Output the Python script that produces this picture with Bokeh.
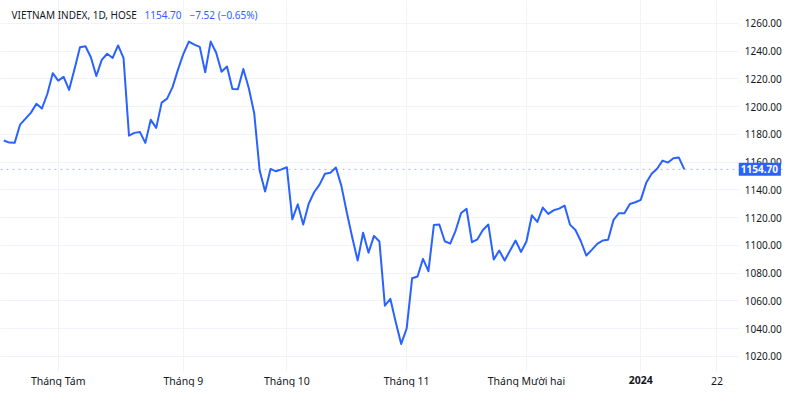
from bokeh.plotting import figure
from bokeh.models import (ColumnDataSource, FixedTicker, Range1d, Span, Label, NumeralTickFormatter)
from bokeh.embed import file_html
from bokeh.resources import INLINE

# ---- data (daily closes, VN-Index, HOSE) ----
close = [
    1175.5, 1174.0, 1173.8, 1187.0, 1191.3, 1195.6, 1202.0, 1198.5, 1209.0, 1224.0,
    1218.7, 1221.4, 1212.0, 1227.0, 1242.7, 1243.4, 1235.5, 1222.0, 1233.6, 1238.0,
    1235.0, 1244.0, 1234.8, 1179.0, 1181.0, 1181.7, 1173.8, 1190.4, 1184.6, 1202.8,
    1205.7, 1214.0, 1226.6, 1238.0, 1246.8, 1244.6, 1243.0, 1224.7, 1246.8, 1238.9,
    1225.0, 1228.8, 1212.7, 1212.4, 1227.0, 1213.4, 1195.2, 1153.8, 1138.7, 1155.0,
    1153.3, 1154.7, 1156.2, 1118.7, 1129.5, 1114.9, 1129.8, 1138.2, 1143.7, 1151.5,
    1152.2, 1156.0, 1143.0, 1123.8, 1105.8, 1089.0, 1109.0, 1094.7, 1106.8, 1102.7,
    1056.5, 1061.4, 1044.5, 1028.9, 1040.0, 1076.2, 1077.5, 1090.2, 1081.3, 1114.7,
    1115.0, 1102.9, 1101.2, 1110.6, 1123.3, 1126.2, 1102.2, 1104.3, 1111.0, 1115.0,
    1089.7, 1096.2, 1089.0, 1096.2, 1103.4, 1095.2, 1102.7, 1121.6, 1116.8, 1127.2,
    1122.6, 1125.2, 1126.4, 1128.6, 1114.9, 1111.0, 1102.9, 1092.6, 1096.7, 1101.0,
    1103.4, 1103.9, 1118.3, 1123.1, 1123.1, 1129.8, 1131.0, 1132.7, 1145.0, 1151.5,
    1155.1, 1161.0, 1159.6, 1162.7, 1163.2, 1154.7,
]
session = list(range(len(close)))

# month-start session indices and their labels
month_ticks = [10, 33, 52, 74, 96, 117, 131]
month_labels = ["Tháng Tám", "Tháng 9", "Tháng 10", "Tháng 11", "Tháng Mười hai", "2024", "22"]
bold_tick = "2024"

price_ticks = [1020, 1040, 1060, 1080, 1100, 1120, 1140, 1160, 1180, 1200, 1220, 1240, 1260]

title_text = "VIETNAM INDEX, 1D, HOSE"
last_text = "1154.70"
change_text = "\u22127.52 (\u22120.65%)"
last_price = 1154.70

BLUE = "#2962ff"
TEXT = "#131722"
GRID = "#f0f3fa"
FONT = "Noto Sans"

# view window (session index / price) and where the scales sit
X_START, X_END = -0.6, 143.4
Y_BOTTOM, Y_TOP = 997.5, 1276.4
PRICE_SCALE_AT = 135.0      # session position of the price scale edge
TIME_SCALE_AT = 1010.4      # price level of the time scale edge

src = ColumnDataSource(dict(x=session, y=close))

p = figure(width=784, height=387, output_backend="svg", toolbar_location=None,
           x_range=Range1d(X_START, X_END), y_range=Range1d(Y_BOTTOM, Y_TOP),
           min_border=0, y_axis_location="right")
p.outline_line_color = None
p.background_fill_color = "white"
p.border_fill_color = "white"

p.line("x", "y", source=src, line_color=BLUE, line_width=2, line_join="round")

# x axis (time scale)
xa = p.xaxis[0]
xa.fixed_location = TIME_SCALE_AT
xa.ticker = FixedTicker(ticks=month_ticks)
xa.major_label_overrides = {t: ("" if l == bold_tick else l) for t, l in zip(month_ticks, month_labels)}
xa.axis_line_color = None
xa.major_tick_line_color = None
xa.minor_tick_line_color = None
xa.major_tick_out = 0
xa.major_tick_in = 0
xa.major_label_standoff = 4
xa.major_label_text_font = FONT
xa.major_label_text_font_size = "10.5px"
xa.major_label_text_color = TEXT

# y axis (price scale, right)
ya = p.yaxis[0]
ya.fixed_location = PRICE_SCALE_AT
ya.ticker = FixedTicker(ticks=price_ticks)
ya.formatter = NumeralTickFormatter(format="0.00")
ya.axis_line_color = None
ya.major_tick_line_color = None
ya.minor_tick_line_color = None
ya.major_tick_out = 0
ya.major_tick_in = 0
ya.major_label_standoff = 6
ya.major_label_text_font = FONT
ya.major_label_text_font_size = "10px"
ya.major_label_text_color = TEXT
ya.major_label_text_align = "left"

p.xgrid.ticker = FixedTicker(ticks=month_ticks)
p.ygrid.ticker = FixedTicker(ticks=price_ticks)
p.xgrid.grid_line_color = GRID
p.ygrid.grid_line_color = GRID
try:
    p.xgrid.cross_bounds = (TIME_SCALE_AT - 1.5, Y_TOP)
    p.ygrid.cross_bounds = (X_START, PRICE_SCALE_AT)
except Exception:
    pass

# last price line
p.add_layout(Span(location=last_price, dimension="width", line_color=BLUE,
                  line_alpha=0.45, line_dash="dotted", line_width=1))

# bold year label on time scale
p.add_layout(Label(x=month_ticks[month_labels.index(bold_tick)], y=TIME_SCALE_AT,
                   y_offset=-6.5, text=bold_tick, text_align="center", text_baseline="top",
                   text_font=FONT, text_font_size="10.5px", text_font_style="bold",
                   text_color=TEXT))

# legend-style header
hdr_y = 1265.6
p.add_layout(Label(x=11, x_units="screen", y=hdr_y, text=title_text, text_font=FONT,
                   text_font_size="10px", text_color=TEXT, text_baseline="middle"))
p.add_layout(Label(x=144, x_units="screen", y=hdr_y, text=last_text, text_font=FONT,
                   text_font_size="10px", text_color=BLUE, text_baseline="middle"))
p.add_layout(Label(x=189, x_units="screen", y=hdr_y, text=change_text, text_font=FONT,
                   text_font_size="10px", text_color=BLUE, text_baseline="middle"))

# last price tag on the price scale
p.add_layout(Label(x=PRICE_SCALE_AT, y=last_price, x_offset=0, text=last_text, text_font=FONT,
                   text_font_size="10px", text_font_style="bold", text_color="white",
                   text_baseline="middle", background_fill_color=BLUE,
                   padding=(2, 3, 2, 3)))

open("out.html", "w").write(file_html(p, INLINE))
